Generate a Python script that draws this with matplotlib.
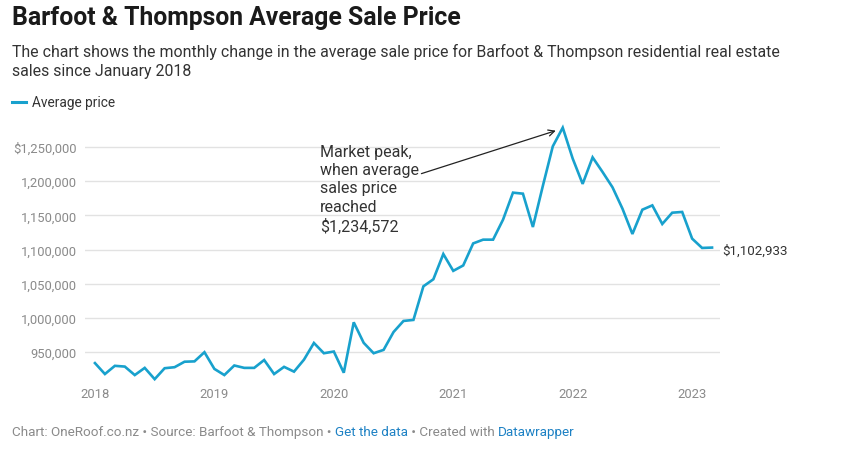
import matplotlib
matplotlib.use("Agg")
import matplotlib.pyplot as plt
import numpy as np

# ---- data ----
months = list(range(63))  # Jan 2018 .. Mar 2023
prices = [934100, 918100, 930100, 929000, 916600, 927100, 910600, 926600, 928100, 936100,
          936600, 950000, 925600, 916600, 930600, 927100, 927100, 938600, 918100, 928600,
          921600, 939100, 963500, 948500, 951000, 920000, 993700, 963700, 948500, 953400,
          979500, 995700, 997200, 1046300, 1056600, 1093500, 1068900, 1076800, 1109000, 1114500,
          1114500, 1143700, 1183200, 1181700, 1133000, 1193000, 1250900, 1278200, 1233000, 1196000,
          1234800, 1213400, 1191000, 1159800, 1122800, 1158300, 1164600, 1137400, 1153900, 1155000,
          1116000, 1102400, 1102933]
year_ticks = [0, 12, 24, 36, 48, 60]
year_labels = ["2018", "2019", "2020", "2021", "2022", "2023"]
y_ticks = [950000, 1000000, 1050000, 1100000, 1150000, 1200000, 1250000]
y_labels = ["950,000", "1,000,000", "1,050,000", "1,100,000", "1,150,000", "1,200,000", "$1,250,000"]
end_label = "$1,102,933"
annot_text = "Market peak,\nwhen average\nsales price\nreached\n$1,234,572"

W, H = 841, 460
BLUE = "#18a1cd"
plt.rcParams['font.family'] = ['Roboto', 'DejaVu Sans']

fig = plt.figure(figsize=(W / 100, H / 100), dpi=100)

def fx(x):
    return x / W

def fy(y):
    return 1 - y / H

ax = fig.add_axes([fx(85), fy(384), fx(720) - fx(85), fy(124) - fy(384)])
ax.plot(months, prices, color=BLUE, lw=1.9, solid_joinstyle="miter", zorder=3)
ax.set_xlim(-1.0, 62.8)
ax.set_ylim(905000, 1285000)

ax.set_yticks(y_ticks)
ax.set_yticklabels(y_labels)
ax.set_xticks(year_ticks)
ax.set_xticklabels(year_labels)
ax.tick_params(axis="y", length=0, pad=6, labelsize=9.4, labelcolor="#8a8a8a")
ax.tick_params(axis="x", length=0, pad=3, labelsize=9.4, labelcolor="#8a8a8a")
ax.grid(axis="y", color="#e2e2e2", lw=1.0, zorder=0)
ax.grid(axis="x", visible=False)
for s in ax.spines.values():
    s.set_visible(False)
ax.set_facecolor("none")

# end label
ax.annotate(end_label, xy=(62, prices[-1]), xytext=(10, -3), textcoords="offset pixels",
            ha="left", va="center", fontsize=9.6, color="#333333")

# annotation
fig.text(fx(320), fy(145), annot_text, ha="left", va="top", fontsize=11.5,
         color="#333333", linespacing=1.27)
ax.annotate("", xy=(46.3, 1273800), xytext=(32.8, 1211000),
            arrowprops=dict(arrowstyle="->", color="#222222", lw=0.9,
                            shrinkA=0, shrinkB=0, mutation_scale=11))

# title / subtitle
fig.text(fx(12), fy(6), "Barfoot & Thompson Average Sale Price", ha="left", va="top",
         fontsize=17.8, fontweight="bold", color="#1a1a1a")
fig.text(fx(12), fy(44), "The chart shows the monthly change in the average sale price for Barfoot & Thompson residential real estate\nsales since January 2018",
         ha="left", va="top", fontsize=11.4, color="#333333", linespacing=1.32)

# legend
fig.add_artist(plt.Line2D([fx(12), fx(26)], [fy(103), fy(103)], color=BLUE, lw=2.2))
fig.text(fx(32), fy(103), "Average price", ha="left", va="center", fontsize=9.8, color="#333333")

# footer
fig.canvas.draw()
renderer = fig.canvas.get_renderer()
segments = [("Chart: OneRoof.co.nz \u2022 Source: Barfoot & Thompson \u2022 ", "#8a8a8a"),
            ("Get the data", "#1d81c4"),
            (" \u2022 Created with ", "#8a8a8a"),
            ("Datawrapper", "#1d81c4")]
x = 12
for txt, col in segments:
    t = fig.text(fx(x), fy(433), txt, ha="left", va="center", fontsize=9.7, color=col)
    bb = t.get_window_extent(renderer=renderer)
    x += bb.width

fig.savefig("out.png", dpi=100, facecolor="white")
